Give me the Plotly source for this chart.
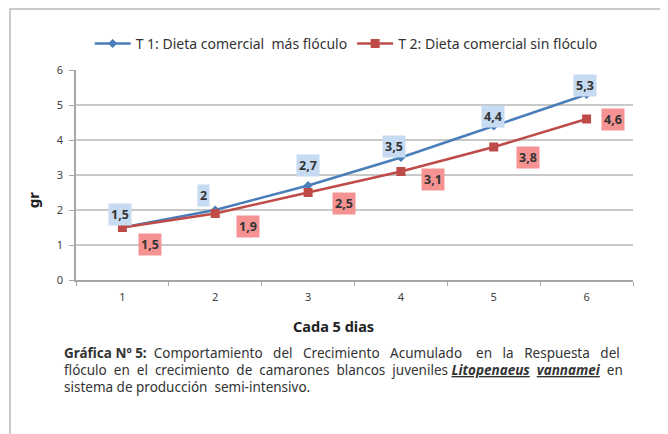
"""
Gráfica 5: crecimiento acumulado (gr) cada 5 días, T1 vs T2
"""
import plotly.graph_objects as go

# datos
muestreos = [1, 2, 3, 4, 5, 6]
t1_valores = [1.5, 2.0, 2.7, 3.5, 4.4, 5.3]
t2_valores = [1.5, 1.9, 2.5, 3.1, 3.8, 4.6]
t1_nombre = "T 1: Dieta comercial  más flóculo"
t2_nombre = "T 2: Dieta comercial sin flóculo"
y_ticks = [0, 1, 2, 3, 4, 5, 6]

AZUL = "#4a7ebb"
ROJO = "#be4b48"
TEXTO = "#404040"
GRIS = "#c8c8c8"
FUENTE = "Noto Sans"

# desplazamiento (px) de las etiquetas respecto a cada punto
t1_desp = [(-2, 13), (-12, 15), (0, 20), (-7, 11), (-1, 10), (-2, 9)]
t2_desp = [(28, -17), (33, -13), (36, -11), (32, -8), (34, -10), (26, 0)]


def etiqueta(v):
    return f"{v:g}".replace(".", ",")


fig = go.Figure()

fig.add_trace(go.Scatter(
    x=muestreos, y=t1_valores, name=t1_nombre,
    mode="lines+markers",
    line=dict(color=AZUL, width=2.5),
    marker=dict(symbol="diamond", size=7, color=AZUL),
))
fig.add_trace(go.Scatter(
    x=muestreos, y=t2_valores, name=t2_nombre,
    mode="lines+markers",
    line=dict(color=ROJO, width=2.5),
    marker=dict(symbol="square", size=9, color=ROJO),
))

anotaciones = []
for x, v, (dx, dy) in zip(muestreos, t1_valores, t1_desp):
    anotaciones.append(dict(
        x=x, y=v, xref="x", yref="y", text=f"<b>{etiqueta(v)}</b>",
        showarrow=False, xshift=dx, yshift=dy, bgcolor="#c6daf2",
        borderpad=2, font=dict(family=FUENTE, size=12.5, color="#333333"),
    ))
for x, v, (dx, dy) in zip(muestreos, t2_valores, t2_desp):
    anotaciones.append(dict(
        x=x, y=v, xref="x", yref="y", text=f"<b>{etiqueta(v)}</b>",
        showarrow=False, xshift=dx, yshift=dy, bgcolor="#f59393",
        borderpad=2, font=dict(family=FUENTE, size=12.5, color="#333333"),
    ))

# títulos y pie de gráfica
anotaciones.append(dict(
    x=-0.077, y=0.38, xref="paper", yref="paper", text="<b>gr</b>",
    xanchor="center", yanchor="middle", textangle=-90, showarrow=False,
    font=dict(family=FUENTE, size=15, color="#222222"),
))
anotaciones.append(dict(
    x=0.463, y=-0.219, xref="paper", yref="paper", text="<b>Cada 5 dias</b>",
    xanchor="center", yanchor="middle", showarrow=False,
    font=dict(family=FUENTE, size=14.5, color="#222222"),
))
pie = [
    "<b>Gráfica Nº 5:</b>  Comportamiento   del   Crecimiento   Acumulado    "
    "en   la   Respuesta   del",
    "flóculo  en  el  crecimiento  de  camarones  blancos  juveniles "
    "<b><i><u>Litopenaeus</u>  <u>vannamei</u></i></b>  en",
    "sistema de producción  semi-intensivo.",
]
for i, linea in enumerate(pie):
    anotaciones.append(dict(
        x=-0.025, y=-0.348 - i * 0.081, xref="paper", yref="paper",
        xanchor="left", yanchor="middle", text=linea, showarrow=False,
        font=dict(family=FUENTE, size=13.5, color="#333333"),
    ))

fig.update_layout(
    width=660, height=426,
    margin=dict(l=68, r=35, t=62, b=154),
    paper_bgcolor="white", plot_bgcolor="white",
    font=dict(family=FUENTE, color=TEXTO),
    showlegend=True,
    legend=dict(
        orientation="h", x=0.485, xanchor="center", y=1.124, yanchor="middle",
        font=dict(family=FUENTE, size=14, color="#333333"),
        itemwidth=36, bgcolor="rgba(0,0,0,0)",
    ),
    annotations=anotaciones,
    shapes=[dict(
        type="rect", xref="paper", yref="paper",
        x0=-0.1185, x1=1.1, y0=-0.85, y1=1.29,
        line=dict(color="#b8b8b8", width=1.5), layer="below",
    )],
)

fig.update_xaxes(
    range=[0.5, 6.5], tickvals=muestreos, ticks="",
    showgrid=False, zeroline=False,
    showline=True, linecolor="#a6a6a6", linewidth=1.5,
    tickfont=dict(family=FUENTE, size=11, color=TEXTO),
    ticklabelstandoff=6,
    minor=dict(tickvals=[0.5, 1.5, 2.5, 3.5, 4.5, 5.5, 6.5], ticks="outside",
               ticklen=4, tickcolor="#a6a6a6", showgrid=False),
    fixedrange=True,
)
fig.update_yaxes(
    range=[0, 6], tickvals=y_ticks, ticks="outside", ticklen=5,
    tickcolor="#a6a6a6", showgrid=True, gridcolor=GRIS, gridwidth=1.5,
    zeroline=False, showline=True, linecolor="#a6a6a6", linewidth=1.5,
    tickfont=dict(family=FUENTE, size=11, color=TEXTO),
    ticklabelstandoff=4,
    fixedrange=True,
)

fig.write_html("out.html", config=dict(displayModeBar=False))
